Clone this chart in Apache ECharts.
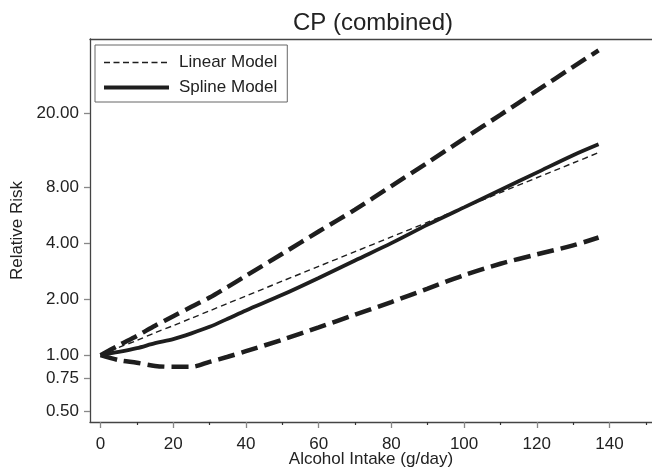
<!DOCTYPE html>
<html>
<head>
<meta charset="utf-8">
<script src="https://cdn.jsdelivr.net/npm/echarts@6/dist/echarts.min.js"></script>
<style>
html,body{margin:0;padding:0;background:#fff;overflow:hidden;}
#chart{width:652px;height:469px;}
</style>
</head>
<body>
<div id="chart"></div>
<script>
// Alcohol intake (g/day)
const intake = [0, 5, 10, 15, 20, 25, 30, 35, 40, 50, 60, 70, 80, 90, 100, 110, 120, 130, 137];
// Relative risk, linear model
const linearRR = [1.00, 1.10, 1.20, 1.32, 1.44, 1.58, 1.73, 1.90, 2.08, 2.50, 3.00, 3.60, 4.32, 5.19, 6.23, 7.48, 8.99, 10.79, 12.27];
// Relative risk, spline model
const splineRR = [1.00, 1.04, 1.09, 1.16, 1.22, 1.31, 1.42, 1.57, 1.74, 2.11, 2.60, 3.23, 4.00, 5.03, 6.23, 7.73, 9.58, 11.88, 13.6];
// Spline model 95% CI upper bound
const upperRR = [1.00, 1.13, 1.27, 1.44, 1.62, 1.82, 2.04, 2.33, 2.67, 3.51, 4.62, 6.06, 8.11, 10.85, 14.6, 19.6, 26.4, 35.5, 43.5];
// Spline model 95% CI lower bound
const lowerRR = [1.00, 0.94, 0.91, 0.875, 0.865, 0.865, 0.92, 0.98, 1.05, 1.21, 1.41, 1.65, 1.93, 2.28, 2.69, 3.10, 3.48, 3.89, 4.29];
// Axis ticks
const yTicks = [0.5, 0.75, 1, 2, 4, 8, 20];
const xMajorTicks = [0, 20, 40, 60, 80, 100, 120, 140];
const xMinorTicks = [10, 30, 50, 70, 90, 110, 130, 150];

const FONT = '"Liberation Sans", Arial, Helvetica, sans-serif';
const INK = '#1e1e1e';
const log2 = v => Math.log2(v);
const pairs = arr => intake.map((x, i) => [x, log2(arr[i])]);

const xMin = -2.9, xMax = 151.7;
const yMin = log2(0.437), yMax = log2(50.1);

const chart = echarts.init(document.getElementById('chart'), null, {renderer: 'canvas'});
chart.setOption({
  animation: false,
  backgroundColor: '#fff',
  textStyle: {fontFamily: FONT},
  title: {
    text: 'CP (combined)',
    left: 293, top: 11, padding: 0,
    textStyle: {fontFamily: FONT, fontSize: 24, fontWeight: 'normal', color: '#222'}
  },
  legend: {
    orient: 'vertical',
    left: 95, top: 45,
    padding: [9, 10, 6, 7],
    itemGap: 8,
    itemWidth: 65, itemHeight: 14,
    borderColor: '#666', borderWidth: 1,
    data: [
      {name: 'Linear Model', lineStyle: {width: 1.4, type: [6, 3.5]}},
      {name: 'Spline Model', lineStyle: {width: 4}}
    ],
    itemStyle: {opacity: 0, color: 'transparent', borderWidth: 0},
    textStyle: {fontFamily: FONT, fontSize: 17, color: '#222', padding: [0, 0, 0, 5]}
  },
  grid: {left: 90, right: 0, top: 39, bottom: 47, containLabel: false, outerBoundsMode: 'none'},
  xAxis: [{
    type: 'value', min: xMin, max: xMax, position: 'bottom',
    name: 'Alcohol Intake (g/day)', nameLocation: 'middle', nameGap: 29, nameMoveOverlap: false,
    nameTextStyle: {fontFamily: FONT, fontSize: 17, color: '#222'},
    axisLine: {show: true, onZero: false, lineStyle: {color: '#444', width: 1.3}},
    axisTick: {show: true, inside: false, length: 6, customValues: xMajorTicks, lineStyle: {color: '#888', width: 1.3}},
    axisLabel: {show: true, margin: 14, customValues: xMajorTicks, fontFamily: FONT, fontSize: 17, color: '#222'},
    splitLine: {show: false}
  }, {
    type: 'value', min: xMin, max: xMax, position: 'bottom',
    axisLine: {show: false, onZero: false},
    axisTick: {show: true, inside: false, length: 3, customValues: xMinorTicks, lineStyle: {color: '#333', width: 1.2}},
    axisLabel: {show: false},
    splitLine: {show: false}
  }, {
    type: 'value', min: xMin, max: xMax, position: 'top',
    axisLine: {show: true, onZero: false, lineStyle: {color: '#444', width: 1.3}},
    axisTick: {show: false}, axisLabel: {show: false}, splitLine: {show: false}
  }],
  yAxis: {
    type: 'value', min: yMin, max: yMax,
    name: 'Relative Risk', nameLocation: 'middle', nameGap: 64, nameMoveOverlap: false,
    nameTextStyle: {fontFamily: FONT, fontSize: 17, color: '#222'},
    axisLine: {show: true, onZero: false, lineStyle: {color: '#444', width: 1.3}},
    axisTick: {show: true, length: 6, customValues: yTicks.map(log2), lineStyle: {color: '#888', width: 1.3}},
    axisLabel: {
      show: true, margin: 11, customValues: yTicks.map(log2),
      fontFamily: FONT, fontSize: 17, color: '#222',
      formatter: v => Math.pow(2, v).toFixed(2)
    },
    splitLine: {show: false}
  },
  series: [{
    name: 'Linear Model', type: 'line', xAxisIndex: 0, symbol: 'none', smooth: 0.3,
    data: pairs(linearRR), z: 3,
    lineStyle: {color: INK, width: 1.4, type: [6, 4]},
    itemStyle: {color: INK}
  }, {
    name: 'Spline Model', type: 'line', xAxisIndex: 0, symbol: 'none', smooth: 0.3,
    data: pairs(splineRR), z: 4,
    lineStyle: {color: INK, width: 3.8, type: 'solid'},
    itemStyle: {color: INK}
  }, {
    name: 'Upper CI', type: 'line', xAxisIndex: 0, symbol: 'none', smooth: 0.3,
    data: pairs(upperRR), z: 2,
    lineStyle: {color: INK, width: 4.5, type: [17, 7], cap: 'butt'},
    itemStyle: {color: INK}
  }, {
    name: 'Lower CI', type: 'line', xAxisIndex: 0, symbol: 'none', smooth: 0.3,
    data: pairs(lowerRR), z: 2,
    lineStyle: {color: INK, width: 4.5, type: [17, 7], cap: 'butt'},
    itemStyle: {color: INK}
  }]
});
</script>
</body>
</html>
